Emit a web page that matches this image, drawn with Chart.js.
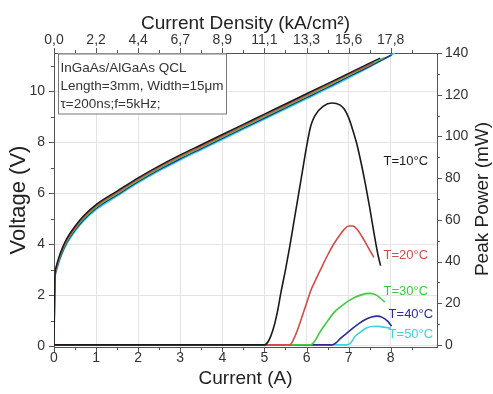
<!DOCTYPE html>
<html><head><meta charset="utf-8">
<script src="https://cdn.jsdelivr.net/npm/chart.js@4.4.0/dist/chart.umd.min.js"></script>
<style>html,body{margin:0;padding:0;background:#fff}#wrap{width:493px;height:394px;position:relative}</style>
</head><body><div id="wrap"><canvas id="c"></canvas></div>
<script>
// ---------- data ----------
const seriesLabels = ['T=10°C','T=20°C','T=30°C','T=40°C','T=50°C'];
const seriesColors = ['#1a1a1a','#d24b4b','#3fc93f','#2c2c96','#3dd3dc'];

// Voltage vs current (A)
const currentV10 = [0,0.01,0.02,0.05,0.1,0.2,0.3,0.5,0.7,1.0,1.5,2.0,2.5,3.0,3.5,4.0,4.5,5.0,5.5,6.0,6.5,7.0,7.5,7.75];
const voltage10  = [0,1.6,2.7,3.1,3.4,3.85,4.2,4.7,5.1,5.55,6.08,6.6,7.07,7.5,7.9,8.3,8.7,9.1,9.5,9.9,10.3,10.7,11.1,11.3];
const currentV20 = [0,0.01,0.02,0.05,0.1,0.2,0.3,0.5,0.7,1.0,1.5,2.0,2.5,3.0,3.5,4.0,4.5,5.0,5.5,6.0,6.5,7.0,7.6];
const voltage20  = [0,1.55,2.65,3.05,3.35,3.8,4.15,4.65,5.05,5.5,6.03,6.55,7.02,7.45,7.85,8.25,8.65,9.05,9.45,9.85,10.25,10.66,11.12];
const currentV30 = [0,0.01,0.02,0.05,0.1,0.2,0.3,0.5,0.7,1.0,1.5,2.0,2.5,3.0,3.5,4.0,4.5,5.0,5.5,6.0,6.5,7.0,7.5,7.86];
const voltage30  = [0,1.5,2.6,3.0,3.3,3.75,4.1,4.6,5.0,5.45,5.98,6.5,6.97,7.4,7.8,8.2,8.6,9.0,9.4,9.8,10.2,10.62,11.03,11.33];
const currentV40 = [0,0.01,0.02,0.05,0.1,0.2,0.3,0.5,0.7,1.0,1.5,2.0,2.5,3.0,3.5,4.0,4.5,5.0,5.5,6.0,6.5,7.0,7.5,8.02];
const voltage40  = [0,1.45,2.55,2.95,3.25,3.7,4.05,4.55,4.95,5.4,5.93,6.45,6.92,7.35,7.75,8.15,8.55,8.95,9.35,9.75,10.15,10.57,10.98,11.42];
const currentV50 = [0,0.01,0.02,0.05,0.1,0.2,0.3,0.5,0.7,1.0,1.5,2.0,2.5,3.0,3.5,4.0,4.5,5.0,5.5,6.0,6.5,7.0,7.5,8.1];
const voltage50  = [0,1.4,2.5,2.9,3.2,3.65,4.0,4.5,4.9,5.35,5.88,6.4,6.87,7.3,7.7,8.1,8.5,8.9,9.3,9.7,10.1,10.52,10.95,11.5];

// Peak power (mW) vs current (A)
const currentP10 = [0,5.0,5.1,5.2,5.3,5.4,5.5,5.6,5.7,5.8,5.9,6.0,6.1,6.2,6.4,6.6,6.8,6.9,7.0,7.1,7.2,7.3,7.4,7.5,7.6,7.7,7.76];
const power10    = [0,0,2,7,15,26,36,47,59,71,83,95,105,110,114.5,116,115,113,109,103,96,87,77,66,54,43,38];
const currentP20 = [0,5.6,5.7,5.8,5.9,6.0,6.1,6.2,6.33,6.5,6.65,6.8,6.9,7.0,7.1,7.2,7.36,7.5,7.6];
const power20    = [0,0,3,8,14,20,26,30.5,36,43,48.5,53,55.5,57,57,55.5,50.5,45.5,42];
const currentP30 = [0,6.1,6.2,6.3,6.45,6.65,6.85,7.1,7.3,7.5,7.65,7.75,7.86];
const power30    = [0,0,2,5.5,10,15.5,19,22.3,24,24.7,24,22.5,20.5];
const currentP40 = [0,6.6,6.7,6.8,6.95,7.1,7.25,7.4,7.55,7.68,7.8,7.92,8.02];
const power40    = [0,0,1,3,5.5,8,10.3,12.2,13.4,13.8,13.2,11.5,9];
const currentP50 = [0,6.95,7.05,7.15,7.3,7.45,7.55,7.7,7.85,8.0];
const power50    = [0,0,1,4,6.5,8.3,8.8,8.9,8.5,8];

// Axis ticks
const bottomTicks = [0,1,2,3,4,5,6,7,8];
const topTickLabels = ['0,0','2,2','4,4','6,7','8,9','11,1','13,3','15,6','17,8'];
const leftTicks = [0,2,4,6,8,10];
const rightTicks = [0,20,40,60,80,100,120,140];
const infoLines = ['InGaAs/AlGaAs QCL','Length=3mm, Width=15\u03BCm','\u03C4=200ns;f=5kHz;'];

// ---------- build ----------
const pts = (xs, ys) => xs.map((v, i) => ({x: v, y: ys[i]}));
const vSets = [[currentV10,voltage10],[currentV20,voltage20],[currentV30,voltage30],[currentV40,voltage40],[currentV50,voltage50]];
const pSets = [[currentP10,power10],[currentP20,power20],[currentP30,power30],[currentP40,power40],[currentP50,power50]];
const datasets = [];
vSets.forEach((s, i) => datasets.push({label:'V '+seriesLabels[i], data: pts(s[0], s[1]), yAxisID:'y', borderColor: seriesColors[i], borderWidth:1.5, pointRadius:0, cubicInterpolationMode:'monotone', fill:false}));
pSets.forEach((s, i) => datasets.push({label:'P '+seriesLabels[i], data: pts(s[0], s[1]), yAxisID:'y2', borderColor: seriesColors[i], borderWidth:1.6, pointRadius:0, cubicInterpolationMode:'monotone', fill:false}));

const FONT = "'Liberation Sans', Arial, Helvetica, sans-serif";
const labelPos = [[7.83,88],[7.83,43],[7.83,25.5],[7.95,14.5],[7.95,4.8]];

const decor = {
  id: 'decor',
  afterDraw(chart) {
    const ctx = chart.ctx, ca = chart.chartArea;
    const sx = chart.scales.x, sy = chart.scales.y, sy2 = chart.scales.y2;
    ctx.save();
    ctx.strokeStyle = '#555'; ctx.lineWidth = 1;
    const line = (a, b, c, d) => { ctx.beginPath(); ctx.moveTo(a, b); ctx.lineTo(c, d); ctx.stroke(); };
    for (let k = 0; k <= 17; k++) {
      const v = k * 0.5, px = Math.round(sx.getPixelForValue(v)) + 0.5, len = k % 2 === 0 ? 5 : 3;
      line(px, ca.bottom, px, ca.bottom + len);
      line(px, ca.top, px, ca.top - len);
    }
    for (let k = 0; k <= 11; k++) {
      const py = Math.round(sy.getPixelForValue(k)) + 0.5, len = k % 2 === 0 ? 5 : 3;
      line(ca.left, py, ca.left - len, py);
    }
    for (let k = 0; k <= 14; k++) {
      const py = Math.round(sy2.getPixelForValue(k * 10)) + 0.5, len = k % 2 === 0 ? 5 : 3;
      line(ca.right, py, ca.right + len, py);
    }
    // right title
    ctx.fillStyle = '#222';
    ctx.font = '19px ' + FONT;
    ctx.textAlign = 'center'; ctx.textBaseline = 'middle';
    ctx.translate(chart.width - 10, (ca.top + ca.bottom) / 2 - 1);
    ctx.rotate(-Math.PI / 2);
    ctx.fillText('Peak Power (mW)', 0, 0);
    ctx.restore();

    // info box
    ctx.save();
    ctx.font = '13.5px ' + FONT;
    let w = 0; infoLines.forEach(t => { w = Math.max(w, ctx.measureText(t).width); });
    const bx = ca.left + 4, by = ca.top + 0.5, bw = w + 5, bh = 60;
    ctx.fillStyle = '#fff'; ctx.fillRect(bx, by, bw, bh);
    ctx.strokeStyle = '#777'; ctx.lineWidth = 1; ctx.strokeRect(Math.round(bx) + 0.5, Math.round(by), Math.round(bw), bh);
    ctx.fillStyle = '#333'; ctx.textAlign = 'left'; ctx.textBaseline = 'middle';
    infoLines.forEach((t, i) => ctx.fillText(t, bx + 2.5, by + 15 + i * 18));
    // temperature labels
    ctx.font = '13px ' + FONT;
    seriesLabels.forEach((t, i) => {
      ctx.fillStyle = seriesColors[i];
      ctx.fillText(t, sx.getPixelForValue(labelPos[i][0]), sy2.getPixelForValue(labelPos[i][1]));
    });
    ctx.restore();
  }
};

const tickFont = {family: FONT, size: 14};
const titleFont = {family: FONT, size: 19};

new Chart(document.getElementById('c'), {
  type: 'line',
  data: {datasets},
  plugins: [decor],
  options: {
    responsive: true, maintainAspectRatio: false, animation: false, devicePixelRatio: 1,
    layout: {padding: 0},
    plugins: {legend: {display: false}, tooltip: {enabled: false}},
    scales: {
      x: {
        type: 'linear', position: 'bottom', min: 0, max: 9.1,
        afterBuildTicks: s => { s.ticks = bottomTicks.map(v => ({value: v})); },
        afterFit: s => { s.height = 47; },
        grid: {color: '#e4e4e4', drawTicks: false},
        border: {display: true, color: '#555', width: 1},
        ticks: {font: tickFont, color: '#333', padding: 3, maxRotation: 0, autoSkip: false},
        title: {display: true, text: 'Current (A)', font: titleFont, color: '#222', padding: {top: 0, bottom: 4}}
      },
      x2: {
        type: 'linear', position: 'top', min: 0, max: 9.1,
        afterBuildTicks: s => { s.ticks = bottomTicks.map(v => ({value: v})); },
        afterFit: s => { s.height = 53; },
        grid: {drawOnChartArea: false, drawTicks: false},
        border: {display: true, color: '#555', width: 1},
        ticks: {font: {family: FONT, size: 14}, color: '#333', padding: 4, maxRotation: 0, autoSkip: false,
          callback: (v, i) => topTickLabels[i]},
        title: {display: true, text: 'Current Density (kA/cm²)', font: titleFont, color: '#222', padding: {top: 12, bottom: 0}}
      },
      y: {
        type: 'linear', position: 'left', min: -0.04, max: 11.5,
        afterBuildTicks: s => { s.ticks = leftTicks.map(v => ({value: v})); },
        afterFit: s => { s.width = 54; },
        grid: {color: '#e4e4e4', drawTicks: false},
        border: {display: true, color: '#555', width: 1},
        ticks: {font: tickFont, color: '#333', padding: 9},
        title: {display: true, text: 'Voltage (V)', font: {family: FONT, size: 22}, color: '#222', padding: {top: 6, bottom: 0}}
      },
      y2: {
        type: 'linear', position: 'right', min: -1, max: 140,
        afterBuildTicks: s => { s.ticks = rightTicks.map(v => ({value: v})); },
        afterFit: s => { s.width = 56; },
        grid: {drawOnChartArea: false, drawTicks: false},
        border: {display: true, color: '#555', width: 1},
        ticks: {font: tickFont, color: '#333', padding: 8},
        title: {display: false}
      }
    }
  }
});
</script></body></html>
